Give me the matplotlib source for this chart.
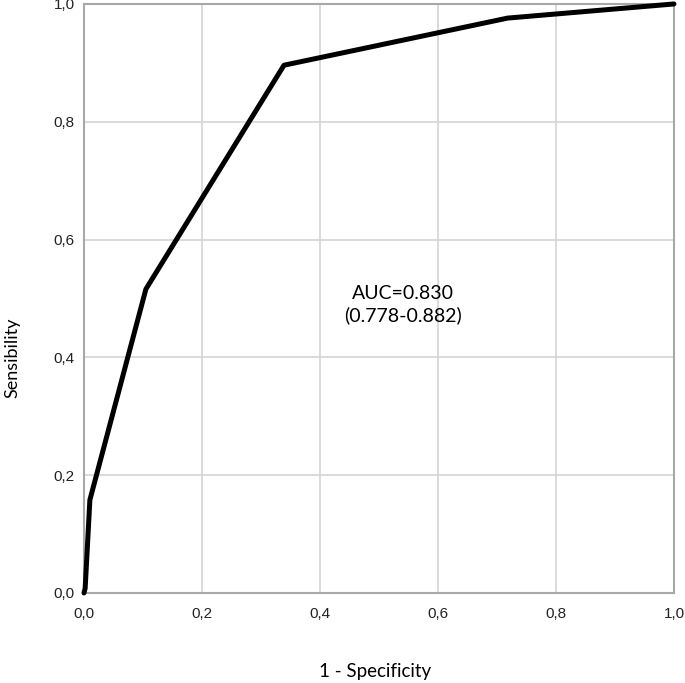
import matplotlib
matplotlib.use("Agg")
import matplotlib.pyplot as plt

# ROC curve points
fpr = [0.0, 0.002, 0.010, 0.105, 0.339, 0.718, 1.0]
tpr = [0.0, 0.008, 0.158, 0.516, 0.896, 0.976, 1.0]
ticks = [0.0, 0.2, 0.4, 0.6, 0.8, 1.0]
tick_labels = ["0,0", "0,2", "0,4", "0,6", "0,8", "1,0"]
auc_text = "AUC=0.830\n(0.778-0.882)"

fig = plt.figure(figsize=(6.85, 6.83), dpi=100)
ax = fig.add_axes([0.1226, 0.1318, 0.8613, 0.8624])

ax.plot(fpr, tpr, color="black", linewidth=3.6, solid_joinstyle="round",
        solid_capstyle="round", clip_on=False, zorder=3)

ax.set_xlim(0, 1)
ax.set_ylim(0, 1)
ax.set_xticks(ticks)
ax.set_yticks(ticks)
ax.set_xticklabels(tick_labels, fontfamily="Liberation Sans", fontsize=11, color="#222222")
ax.set_yticklabels(tick_labels, fontfamily="Liberation Sans", fontsize=11, color="#222222")
ax.tick_params(axis="x", length=0, pad=10)
ax.tick_params(axis="y", length=0, pad=6.5)
ax.grid(True, color="#d4d4d4", linewidth=1.2)
ax.set_axisbelow(True)
for s in ax.spines.values():
    s.set_color("#a8a8a8")
    s.set_linewidth(1.5)

ax.set_xlabel("1 - Specificity", fontfamily="Lato", fontsize=13.5)
ax.set_ylabel("Sensibility", fontfamily="Lato", fontsize=13)
ax.xaxis.set_label_coords(0.493, -0.134)
ax.yaxis.set_label_coords(-0.122, 0.40)
ax.xaxis.label.set_va("center")
ax.yaxis.label.set_va("center")

ax.text(0.541, 0.489, auc_text, ha="center", va="center", fontfamily="Lato",
        fontsize=14, linespacing=1.3)

plt.savefig("out.png", dpi=100)
